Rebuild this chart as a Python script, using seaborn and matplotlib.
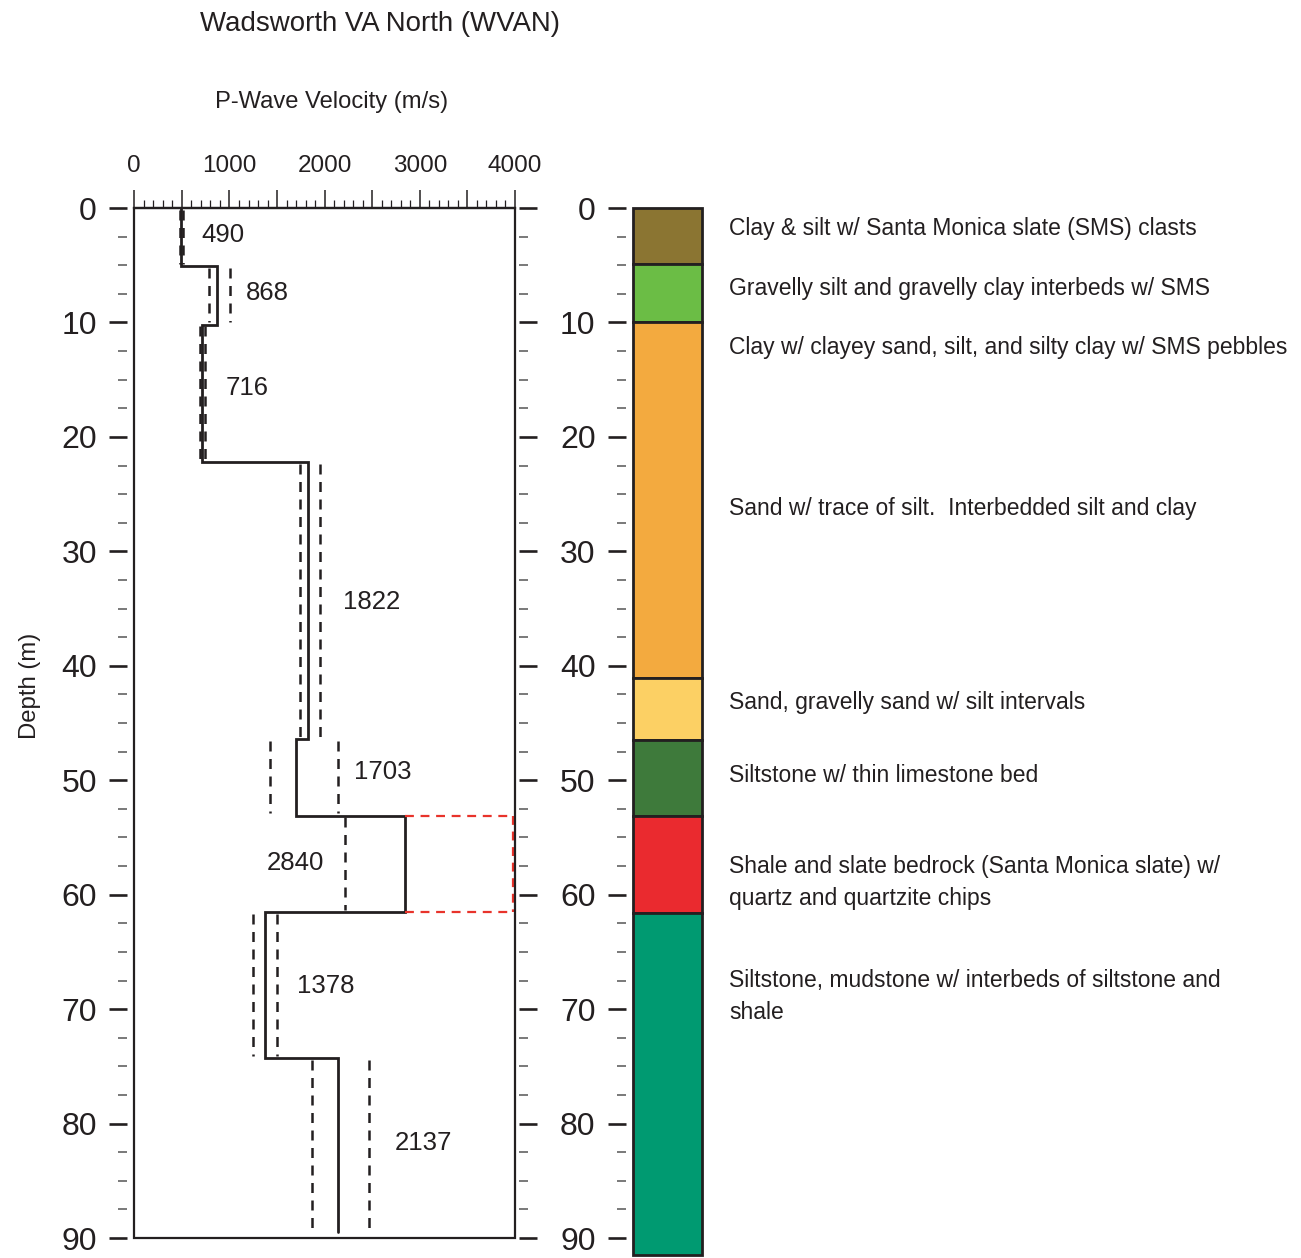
import matplotlib
matplotlib.use("Agg")
import matplotlib.pyplot as plt
from matplotlib.patches import Rectangle
from matplotlib.ticker import MultipleLocator, FixedLocator
import seaborn as sns
import pandas as pd

# ---------------- data ----------------
layer_top = [0.0, 5.1, 10.2, 22.2, 46.4, 53.1, 61.5, 74.3]
layer_bottom = [5.1, 10.2, 22.2, 46.4, 53.1, 61.5, 74.3, 89.5]
vp = [490, 868, 716, 1822, 1703, 2840, 1378, 2137]
vp_low = [478, 785, 695, 1745, 1425, 2215, 1250, 1870]
vp_high = [515, 1005, 742, 1950, 2145, 3980, 1500, 2470]
high_open = [False, False, False, False, False, True, False, False]  # upper bound off-scale (red box)

label_x = [932, 1394, 1186, 2494, 2612, 1688, 2014, 3038]
label_depth = [2.4, 7.4, 15.7, 34.4, 49.3, 57.2, 68.0, 81.7]

unit_top = [0.0, 4.9, 10.0, 41.1, 46.5, 53.1, 61.6]
unit_bottom = [4.9, 10.0, 41.1, 46.5, 53.1, 61.6, 91.5]
unit_colors = ["#8B7532", "#6BBD45", "#F3AA3F", "#FCD064", "#3E7A3B", "#EA2A2F", "#009A71"]

descriptions = [
    "Clay & silt w/ Santa Monica slate (SMS) clasts",
    "Gravelly silt and gravelly clay interbeds w/ SMS",
    "Clay w/ clayey sand, silt, and silty clay w/ SMS pebbles",
    "Sand w/ trace of silt.  Interbedded silt and clay",
    "Sand, gravelly sand w/ silt intervals",
    "Siltstone w/ thin limestone bed",
    "Shale and slate bedrock (Santa Monica slate) w/\nquartz and quartzite chips",
    "Siltstone, mudstone w/ interbeds of siltstone and\nshale",
]
desc_depth = [1.75, 7.0, 12.15, 26.3, 43.25, 49.6, 58.9, 68.9]

vel_ticks = [0, 1000, 2000, 3000, 4000]
depth_ticks = [0, 10, 20, 30, 40, 50, 60, 70, 80, 90]

# ---------------- style ----------------
sns.set_theme(style="white")
INK = "#231F20"
FONT = ["Liberation Sans", "DejaVu Sans"]
plt.rcParams["font.family"] = FONT
plt.rcParams["text.color"] = INK

W, H = 1301, 1258
fig = plt.figure(figsize=(W / 100, H / 100), dpi=100)

def px(x0, y0, x1, y1):
    return [x0 / W, 1 - y1 / H, (x1 - x0) / W, (y1 - y0) / H]

# ---------------- velocity profile ----------------
ax = fig.add_axes(px(134.3, 208, 515, 1238))
ax.set_xlim(0, 4000)
ax.set_ylim(90, 0)

xs, ys = [], []
for v, t, b in zip(vp, layer_top, layer_bottom):
    xs += [v, v]
    ys += [t, b]
prof = pd.DataFrame({"vp": xs, "depth": ys})
sns.lineplot(data=prof, x="vp", y="depth", sort=False, estimator=None, ax=ax,
             color=INK, lw=2.0, solid_joinstyle="miter")

red = "#E8332B"
for i in range(len(vp)):
    t, b = layer_top[i] + 0.15, layer_bottom[i] - 0.2
    ax.vlines(vp_low[i], t, b, colors=INK, lw=1.8, linestyles=(0, (4, 3)))
    if high_open[i]:
        ax.plot([vp[i], vp_high[i]], [layer_top[i]] * 2, color=red, lw=1.6, dashes=(4, 3))
        ax.plot([vp[i], vp_high[i]], [layer_bottom[i]] * 2, color=red, lw=1.6, dashes=(4, 3))
        ax.plot([vp_high[i]] * 2, [layer_top[i], layer_bottom[i]], color=red, lw=1.6, dashes=(4, 3))
    else:
        ax.vlines(vp_high[i], t, b, colors=INK, lw=1.8, linestyles=(0, (4, 3)))
    ax.text(label_x[i], label_depth[i], str(vp[i]), ha="center", va="center",
            fontsize=18.5, color=INK)

# frame and ticks
for s in ["left", "right", "bottom"]:
    ax.spines[s].set_visible(False)
ax.spines["left"].set_position(("outward", 5))
ax.spines["right"].set_position(("outward", 3))
ax.spines["top"].set_color(INK)
ax.spines["top"].set_linewidth(1.6)
ax.add_patch(Rectangle((0, 0), 1, 1, transform=ax.transAxes, fill=False,
                       ec=INK, lw=1.6, zorder=5, clip_on=False))

ax.xaxis.tick_top()
ax.xaxis.set_major_locator(FixedLocator(list(range(0, 4001, 500))))
ax.xaxis.set_minor_locator(MultipleLocator(100))
ax.set_xticklabels([str(v) if v in vel_ticks else "" for v in range(0, 4001, 500)])
ax.tick_params(axis="x", which="major", direction="out", length=13, width=1.1, color=INK,
               pad=9, labelsize=17.5, labelcolor=INK, top=True, bottom=False)
ax.tick_params(axis="x", which="minor", direction="out", length=6, width=0.9, color=INK,
               top=True, bottom=False)

ax.yaxis.set_major_locator(FixedLocator(depth_ticks))
ax.yaxis.set_minor_locator(MultipleLocator(2.5))
ax.set_yticklabels([str(d) for d in depth_ticks])
ax.tick_params(axis="y", which="major", direction="out", length=13, width=1.9, color=INK,
               pad=9, labelsize=23, labelcolor=INK, left=True, right=True)
ax.tick_params(axis="y", which="minor", direction="out", length=6.5, width=1.1, color="#555555",
               left=True, right=True)
ax.set_xlabel("")
ax.set_ylabel("")
ax.grid(False)

# ---------------- stratigraphic column ----------------
ax2 = fig.add_axes(px(633, 208, 702, 1256))
ax2.set_xlim(0, 1)
ax2.set_ylim(91.57, 0)
units = pd.DataFrame({"top": unit_top, "bottom": unit_bottom, "color": unit_colors})
ax2.bar(x=[0.5] * len(units), height=units["bottom"] - units["top"], bottom=units["top"],
        width=1.0, color=units["color"], edgecolor=INK, linewidth=2.0, clip_on=False)
for s in ["top", "right", "bottom", "left"]:
    ax2.spines[s].set_visible(False)
ax2.spines["left"].set_position(("outward", 5))
ax2.set_xticks([])
ax2.yaxis.set_major_locator(FixedLocator(depth_ticks))
ax2.yaxis.set_minor_locator(MultipleLocator(2.5))
ax2.set_yticklabels([str(d) for d in depth_ticks])
ax2.tick_params(axis="y", which="major", direction="out", length=13, width=1.9, color=INK,
                pad=9, labelsize=23, labelcolor=INK, left=True, right=False)
ax2.tick_params(axis="y", which="minor", direction="out", length=6.5, width=1.1, color="#555555",
                left=True, right=False)
ax2.grid(False)

for txt, d in zip(descriptions, desc_depth):
    ax2.text(1.39, d, txt, transform=ax2.get_yaxis_transform(), ha="left", va="center",
             fontsize=16.5, color=INK, linespacing=1.5, clip_on=False)

# ---------------- titles ----------------
fig.text(380 / W, 1 - 24 / H, "Wadsworth VA North (WVAN)", ha="center", va="center",
         fontsize=19.9, color=INK)
fig.text(332 / W, 1 - 102 / H, "P-Wave Velocity (m/s)", ha="center", va="center",
         fontsize=17.1, color=INK)
fig.text(30 / W, 1 - 686 / H, "Depth (m)", ha="center", va="center", rotation=90,
         fontsize=17.2, color=INK)

fig.savefig("out.png", dpi=100, facecolor="white")
